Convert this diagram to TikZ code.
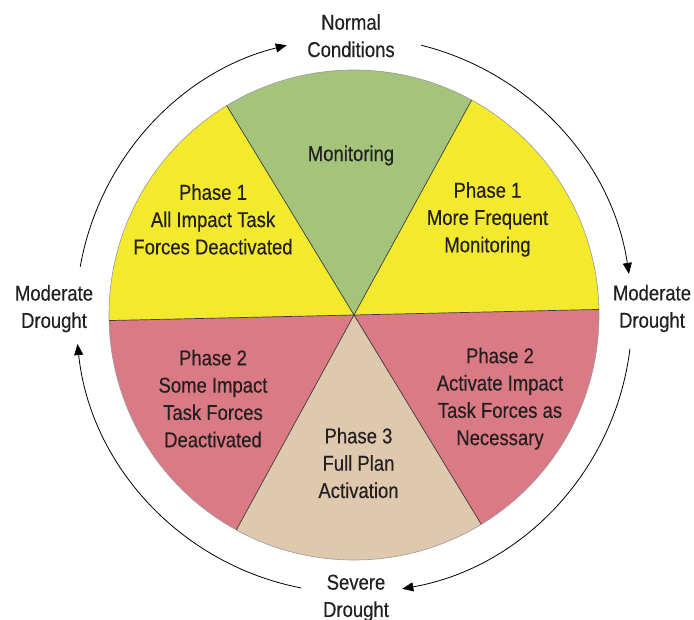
\documentclass[tikz,border=0pt]{standalone}
\usepackage{fontspec}
\setmainfont[FakeStretch=0.86,FakeBold=0.3]{Liberation Sans}
\usetikzlibrary{arrows.meta}
\definecolor{cgreen}{HTML}{A4C47B}
\definecolor{cyellow}{HTML}{F3EA2D}
\definecolor{cred}{HTML}{D97A84}
\definecolor{ctan}{HTML}{DEC8AE}
\definecolor{ctext}{HTML}{231F20}
\definecolor{cedge}{HTML}{3A3A3A}
\begin{document}
\begin{tikzpicture}[x=1pt,y=1pt,
  lbl/.style={align=center,text=ctext,inner sep=0pt,font=\fontsize{21.5}{27.3}\selectfont},
  cyc/.style={draw=black,line width=0.8pt,-{Triangle[length=11pt,width=9pt]}},
  wedgeline/.style={draw=cedge,line width=0.7pt}]
\useasboundingbox (0,0) rectangle (694,619);
\fill[white] (0,0) rectangle (694,619);
\coordinate (C) at (354,304);
% wedges
\fill[cgreen] (C) -- ([shift={(61.3:245)}]C) arc[start angle=61.3,end angle=121.3,radius=245] -- cycle;
\fill[cyellow] (C) -- ([shift={(121.3:245)}]C) arc[start angle=121.3,end angle=181.3,radius=245] -- cycle;
\fill[cred] (C) -- ([shift={(181.3:245)}]C) arc[start angle=181.3,end angle=241.3,radius=245] -- cycle;
\fill[ctan] (C) -- ([shift={(241.3:245)}]C) arc[start angle=241.3,end angle=301.3,radius=245] -- cycle;
\fill[cred] (C) -- ([shift={(301.3:245)}]C) arc[start angle=301.3,end angle=361.3,radius=245] -- cycle;
\fill[cyellow] (C) -- ([shift={(1.3:245)}]C) arc[start angle=1.3,end angle=61.3,radius=245] -- cycle;
\draw[draw=gray!80,line width=0.6pt] (C) circle[radius=245];
\foreach \a in {1.3,61.3,121.3,181.3,241.3,301.3}
  \draw[wedgeline] (C) -- ([shift={(\a:245)}]C);
% cycle arrows
\draw[cyc] ([shift={(170:278)}]C) arc[start angle=170,end angle=104,radius=278];
\draw[cyc] ([shift={(76:278)}]C) arc[start angle=76,end angle=8.5,radius=278];
\draw[cyc] ([shift={(-7:278)}]C) arc[start angle=-7,end angle=-80,radius=278];
\draw[cyc] ([shift={(259:278)}]C) arc[start angle=259,end angle=186,radius=278];
% labels
\node[lbl] (normal) at (351,583.3) {Normal\\Conditions};
\node[lbl] (mon) at (351,463.5) {Monitoring};
\node[lbl] (p1l) at (213,399.6) {Phase 1\\All Impact Task\\Forces Deactivated};
\node[lbl] (p1r) at (487.5,399.6) {Phase 1\\More Frequent\\Monitoring};
\node[lbl] (p2l) at (213,220.4) {Phase 2\\Some Impact\\Task Forces\\Deactivated};
\node[lbl] (p2r) at (500,220.4) {Phase 2\\Activate Impact\\Task Forces as\\Necessary};
\node[lbl] (p3) at (358.5,156) {Phase 3\\Full Plan\\Activation};
\node[lbl] (modl) at (54,310.3) {Moderate\\Drought};
\node[lbl] (modr) at (652,310.5) {Moderate\\Drought};
\node[lbl] (sev) at (356,21) {Severe\\Drought};
\end{tikzpicture}
\end{document}
